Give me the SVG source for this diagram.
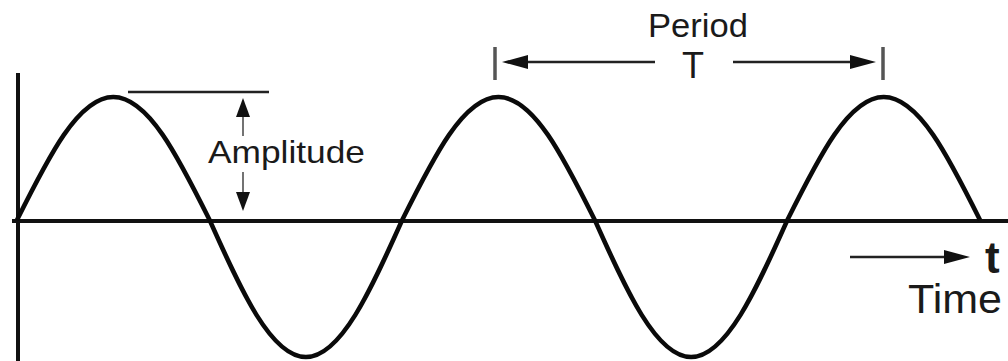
<svg xmlns="http://www.w3.org/2000/svg" width="1008" height="361" viewBox="0 0 1008 361">
  <defs>
    <style>
      .axis { stroke: #111; stroke-width: 4; fill: none; }
      .wave { stroke: #0a0a0a; stroke-width: 4.5; fill: none; stroke-linejoin: round; }
      .thin { stroke: #222; stroke-width: 2.5; fill: none; }
      .guide { stroke: #444; stroke-width: 1.5; fill: none; }
      .bar { stroke: #555; stroke-width: 3.5; }
      .head { fill: #111; }
      .lbl { font-family: "Liberation Sans", Arial, sans-serif; fill: #1a1a1a; }
    </style>
  </defs>
  <rect width="1008" height="361" fill="#ffffff"/>

  <g id="axes">
    <line class="axis" x1="18" y1="73" x2="18" y2="361"/>
    <line class="axis" x1="12" y1="221" x2="1008" y2="221"/>
  </g>

  <g id="wave">
    <path class="wave" d="M17,220 C48.4,157 78.45,97 113.3,97 C148.15,97 178.2,157 209.6,220 C241,290.2 271.05,357 305.9,357 C340.75,357 370.8,290.2 402.2,220 C433.6,157 463.65,97 498.5,97 C533.35,97 563.4,157 594.8,220 C626.2,290.2 656.25,357 691.1,357 C725.95,357 756,290.2 787.4,220 C818.8,157 848.85,97 883.7,97 C918.55,97 948.6,157 980,220"/>
  </g>

  <g id="amplitude">
    <line class="thin" x1="128" y1="92" x2="269" y2="92"/>
    <line class="guide" x1="243" y1="115" x2="243" y2="136"/>
    <polygon class="head" points="243,98 236,117 250,117"/>
    <line class="guide" x1="243" y1="172" x2="243" y2="193"/>
    <polygon class="head" points="243,211 236,192 250,192"/>
    <text class="lbl" x="208" y="163" font-size="32" textLength="157" lengthAdjust="spacingAndGlyphs">Amplitude</text>
  </g>

  <g id="period">
    <line class="bar" x1="495" y1="47" x2="495" y2="80"/>
    <line class="bar" x1="883" y1="47" x2="883" y2="80"/>
    <line class="thin" x1="520" y1="62" x2="655" y2="62"/>
    <polygon class="head" points="502,62 528,55 528,69"/>
    <line class="thin" x1="733" y1="62" x2="858" y2="62"/>
    <polygon class="head" points="876,62 850,55 850,69"/>
    <text class="lbl" x="698" y="37" font-size="33" text-anchor="middle" textLength="100" lengthAdjust="spacingAndGlyphs">Period</text>
    <text class="lbl" x="693" y="78" font-size="36" text-anchor="middle">T</text>
  </g>

  <g id="time">
    <line class="thin" x1="850" y1="257" x2="950" y2="257" stroke-width="3.5"/>
    <polygon class="head" points="970,257 944,250 944,264"/>
    <text class="lbl" x="985" y="273" font-size="44" font-weight="bold" fill="#000">t</text>
    <text class="lbl" x="908" y="313" font-size="40" textLength="94" lengthAdjust="spacingAndGlyphs">Time</text>
  </g>
</svg>
